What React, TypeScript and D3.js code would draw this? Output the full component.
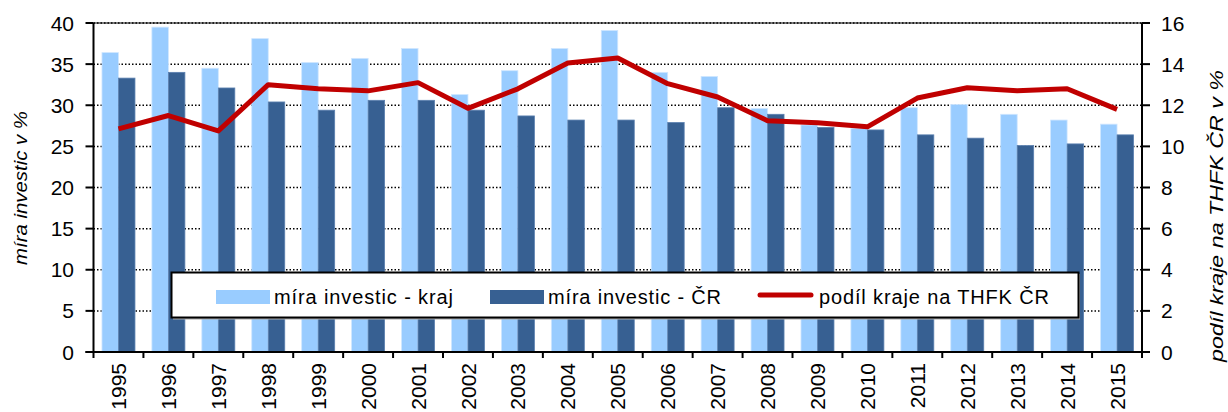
import React from 'react';
import * as d3 from 'd3';

const years = ['1995', '1996', '1997', '1998', '1999', '2000', '2001', '2002', '2003', '2004', '2005',
  '2006', '2007', '2008', '2009', '2010', '2011', '2012', '2013', '2014', '2015'];
const miraKraj = [36.4, 39.5, 34.5, 38.1, 35.2, 35.7, 36.9, 31.3, 34.2, 36.9, 39.1,
  34.0, 33.5, 29.6, 27.6, 27.2, 29.7, 30.1, 28.9, 28.2, 27.7];
const miraCR = [33.3, 34.0, 32.1, 30.4, 29.4, 30.6, 30.6, 29.4, 28.7, 28.2, 28.2,
  27.9, 29.7, 28.9, 27.3, 27.0, 26.4, 26.0, 25.1, 25.3, 26.4];
const podil = [10.85, 11.5, 10.75, 13.0, 12.8, 12.7, 13.1, 11.85, 12.8, 14.05, 14.3,
  13.05, 12.4, 11.25, 11.15, 10.95, 12.35, 12.85, 12.7, 12.8, 11.8];
const leftTicks = [0, 5, 10, 15, 20, 25, 30, 35, 40];
const rightTicks = [0, 2, 4, 6, 8, 10, 12, 14, 16];

const W = 1228;
const H = 412;
const m = { left: 93.5, right: 1142, top: 23, bottom: 352 };
const font = 'Liberation Sans, Arial, Helvetica, sans-serif';
const fs = 21;

const LIGHT = '#99CCFF';
const DARK = '#376092';
const RED = '#C00000';

export default function App() {
  const x = d3.scaleBand<string>().domain(years).range([m.left, m.right]);
  const yL = d3.scaleLinear().domain([0, 40]).range([m.bottom, m.top]);
  const yR = d3.scaleLinear().domain([0, 16]).range([m.bottom, m.top]);
  const bw = 16.5;
  const center = (d: string) => (x(d) as number) + x.bandwidth() / 2;

  const line = d3.line<number>()
    .x((_, i) => center(years[i]))
    .y(d => yR(d));

  const boundaries = d3.range(years.length + 1).map(i => m.left + i * x.bandwidth());

  return (
    <svg width={W} height={H}
      style={{ position: 'absolute', left: 0, top: 0, background: '#fff', fontFamily: font }}>
      {/* grid */}
      {leftTicks.map(t => (
        <line key={'g' + t} x1={m.left} x2={m.right} y1={yL(t)} y2={yL(t)}
          stroke="#000" strokeWidth={1.5} strokeDasharray="1.5,2" />
      ))}
      <line x1={m.left} x2={m.right} y1={m.top} y2={m.top} stroke="#000" strokeWidth={1} />

      {/* bars */}
      {years.map((d, i) => (
        <g key={'b' + d}>
          <rect x={center(d) - bw} y={yL(miraKraj[i])} width={bw} height={yL(0) - yL(miraKraj[i])}
            fill={LIGHT} stroke="#cfe6ff" strokeWidth={0.8} />
          <rect x={center(d)} y={yL(miraCR[i])} width={bw} height={yL(0) - yL(miraCR[i])}
            fill={DARK} stroke="#5b80b0" strokeWidth={0.8} />
        </g>
      ))}

      {/* line */}
      <path d={line(podil) || ''} fill="none" stroke={RED} strokeWidth={5} strokeLinejoin="round" />

      {/* axes */}
      <line x1={m.left} x2={m.left} y1={m.top} y2={m.bottom} stroke="#000" strokeWidth={2} />
      <line x1={m.right} x2={m.right} y1={m.top} y2={m.bottom} stroke="#000" strokeWidth={2} />
      <line x1={m.left - 8} x2={m.right + 8} y1={m.bottom} y2={m.bottom} stroke="#000" strokeWidth={2} />
      {leftTicks.map(t => (
        <g key={'l' + t}>
          <line x1={m.left - 8} x2={m.left} y1={yL(t)} y2={yL(t)} stroke="#000" strokeWidth={2} />
          <text x={74} y={yL(t)} dy="0.36em" textAnchor="end" fontSize={fs} fill="#000">{t}</text>
        </g>
      ))}
      {rightTicks.map(t => (
        <g key={'r' + t}>
          <line x1={m.right} x2={m.right + 8} y1={yR(t)} y2={yR(t)} stroke="#000" strokeWidth={2} />
          <text x={1161} y={yR(t)} dy="0.36em" textAnchor="start" fontSize={fs} fill="#000">{t}</text>
        </g>
      ))}
      {boundaries.map((b, i) => (
        <line key={'xt' + i} x1={b} x2={b} y1={m.bottom} y2={m.bottom + 6} stroke="#000" strokeWidth={2} />
      ))}
      {years.map(d => (
        <text key={'xl' + d} transform={`translate(${center(d)},363) rotate(-90)`} textAnchor="end"
          dy="0.36em" fontSize={fs} fill="#000">{d}</text>
      ))}

      {/* axis titles */}
      <text transform="translate(20,188) rotate(-90)" textAnchor="middle" dy="0.36em" fontSize={19}
        fontStyle="italic" textLength={154} lengthAdjust="spacingAndGlyphs">míra investic v %</text>
      <text transform="translate(1216,216) rotate(-90)" textAnchor="middle" dy="0.36em" fontSize={19}
        fontStyle="italic" textLength={292} lengthAdjust="spacingAndGlyphs">podíl kraje na THFK ČR v %</text>

      {/* legend */}
      <rect x={173} y={274} width={907} height={45.5} fill="#aaa" />
      <rect x={171.5} y={272.5} width={907} height={45} fill="#fff" stroke="#000" strokeWidth={2} />
      <rect x={216} y={290} width={54} height={14} fill={LIGHT} />
      <text x={274} y={304} fontSize={20} textLength={179} lengthAdjust="spacing">míra investic - kraj</text>
      <rect x={490} y={290} width={54} height={14} fill={DARK} />
      <text x={548} y={304} fontSize={20} textLength={173} lengthAdjust="spacing">míra investic - ČR</text>
      <line x1={760} x2={811} y1={295} y2={295} stroke={RED} strokeWidth={5} strokeLinecap="round" />
      <text x={819} y={304} fontSize={20} textLength={230} lengthAdjust="spacing">podíl kraje na THFK ČR</text>
    </svg>
  );
}
